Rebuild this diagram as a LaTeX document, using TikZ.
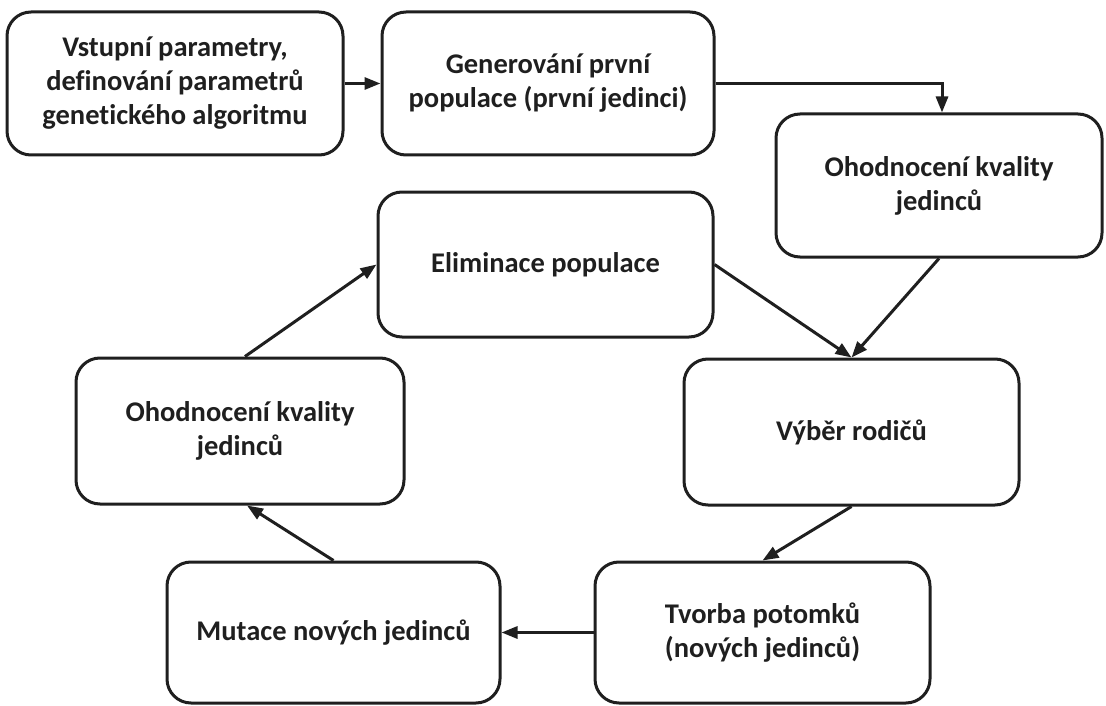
\documentclass[tikz,border=0pt]{standalone}
\usepackage{fontspec}
\setmainfont{Carlito}[Ligatures={NoCommon,NoRare,NoDiscretionary}]
\usetikzlibrary{arrows.meta}
\definecolor{ink}{HTML}{1F1F1F}
\begin{document}
\begin{tikzpicture}[x=1pt,y=-1pt,
  box/.style={draw=ink, line width=3pt, rounded corners=24pt, align=center,
    text=ink, font=\fontsize{28.5}{34}\selectfont\bfseries, inner sep=0pt},
  flow/.style={draw=ink, line width=3pt,
    -{Triangle[length=16pt,width=12pt]}}]
  \useasboundingbox (0,0) rectangle (1106,706);
  % boxes, centred on their pixel positions
  \node[box, minimum width=336pt, minimum height=143pt] (b1) at (175,83.5)
    {Vstupní parametry,\\def\kern0pt inování parametrů\\genet\kern0pt ického algoritmu};
  \node[box, minimum width=332pt, minimum height=143pt] (b2) at (548,83.5)
    {Generování první\\populace (první jedinci)};
  \node[box, minimum width=326pt, minimum height=143pt] (b3) at (939,185.5)
    {Ohodnocení kvality\\jedinců};
  \node[box, minimum width=335pt, minimum height=145pt] (b4) at (545.5,264.5)
    {Eliminace populace};
  \node[box, minimum width=335pt, minimum height=146pt] (b5) at (851.5,432)
    {Výběr rodičů};
  \node[box, minimum width=328pt, minimum height=146pt] (b6) at (240,431)
    {Ohodnocení kvality\\jedinců};
  \node[box, minimum width=333pt, minimum height=141pt] (b7) at (333.5,632.5)
    {Mutace nových jedinců};
  \node[box, minimum width=335pt, minimum height=141pt] (b8) at (762.5,632.5)
    {Tvorba potomků\\(nových jedinců)};
  % connectors
  \draw[flow] (b1.east) -- (b2.west);
  \draw[flow] (b2.east) -| ([xshift=3pt]b3.north);
  \draw[flow] (b3.south) -- (b5.north);
  \draw[flow] (b4.east) -- (b5.north);
  \draw[flow] (b5.south) -- (b8.north);
  \draw[flow] (b8.west) -- (b7.east);
  \draw[flow] (b7.north) -- ([xshift=7pt]b6.south);
  \draw[flow] ([xshift=5pt]b6.north) -- (b4.west);
\end{tikzpicture}
\end{document}
